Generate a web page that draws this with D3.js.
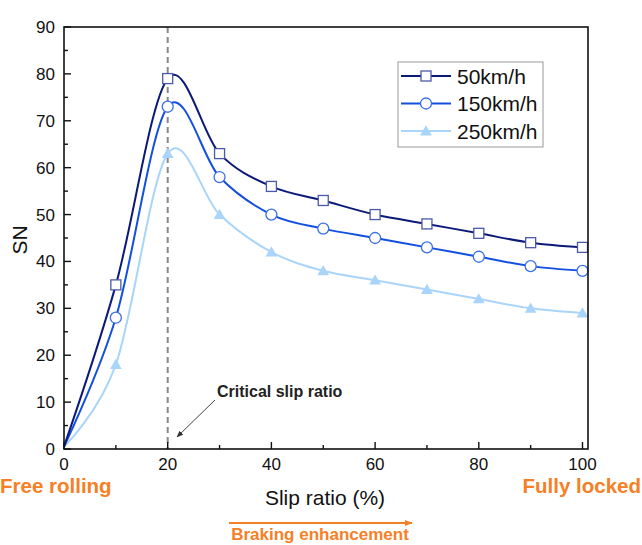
<!DOCTYPE html>
<html>
<head>
    <meta charset="UTF-8">
    <style>
        body { margin: 0; background: #fff; }
        svg { font-family: "Liberation Sans", Arial, sans-serif; }
    </style>
</head>
<body>
    <svg width="642" height="545"></svg>
    <script src="https://d3js.org/d3.v7.min.js"></script>
    <script>
        // data
        let slip = [0, 10, 20, 30, 40, 50, 60, 70, 80, 90, 100];
        let sn50 = [0.5, 35, 79, 63, 56, 53, 50, 48, 46, 44, 43];
        let sn150 = [0.5, 28, 73, 58, 50, 47, 45, 43, 41, 39, 38];
        let sn250 = [0.5, 18, 63, 50, 42, 38, 36, 34, 32, 30, 29];
        let seriesNames = ["50km/h", "150km/h", "250km/h"];
        let xTicks = [0, 20, 40, 60, 80, 100];
        let yTicks = [0, 10, 20, 30, 40, 50, 60, 70, 80, 90];
        let criticalSlip = 20;

        let svg = d3.select("svg");
        let plotLeft = 64, plotRight = 588, plotTop = 27, plotBottom = 449;

        let x = d3.scaleLinear().domain([0, 101]).range([plotLeft, 64 + 101 * 5.185]);
        let y = d3.scaleLinear().domain([0, 90]).range([plotBottom, plotTop]);

        let series = [
            { name: seriesNames[0], values: sn50, color: "#0b1a78", mark: "#4a5aa8", shape: "square" },
            { name: seriesNames[1], values: sn150, color: "#1450e0", mark: "#3a6ee8", shape: "circle" },
            { name: seriesNames[2], values: sn250, color: "#a9d5fa", mark: "#a9d5fa", shape: "triangle" }
        ];

        // dashed critical line
        svg.append("line")
            .attr("x1", x(criticalSlip)).attr("x2", x(criticalSlip))
            .attr("y1", plotTop).attr("y2", plotBottom)
            .attr("stroke", "#888").attr("stroke-width", 2)
            .attr("stroke-dasharray", "6,4");

        let line = d3.line()
            .x((d, i) => x(slip[i]))
            .y(d => y(d))
            .curve(d3.curveCatmullRom.alpha(0));

        // lines, last series first so dark ones are on top
        series.slice().reverse().forEach(s => {
            svg.append("path")
                .datum(s.values)
                .attr("fill", "none")
                .attr("stroke", s.color)
                .attr("stroke-width", 2)
                .attr("d", line);
        });

        function drawMarker(g, shape, cx, cy, color) {
            if (shape == "square") {
                g.append("rect").attr("x", cx - 5).attr("y", cy - 5).attr("width", 10).attr("height", 10)
                    .attr("fill", "#fff").attr("stroke", color).attr("stroke-width", 1.3);
            } else if (shape == "circle") {
                g.append("circle").attr("cx", cx).attr("cy", cy).attr("r", 5.5)
                    .attr("fill", "#fff").attr("stroke", color).attr("stroke-width", 1.3);
            } else {
                g.append("path").attr("d", d3.symbol(d3.symbolTriangle, 60)())
                    .attr("transform", "translate(" + cx + "," + (cy + 1) + ")")
                    .attr("fill", color);
            }
        }

        let marks = svg.append("g");
        series.slice().reverse().forEach(s => {
            s.values.forEach((v, i) => {
                if (slip[i] > 0) drawMarker(marks, s.shape, x(slip[i]), y(v), s.mark);
            });
        });

        // frame
        svg.append("rect")
            .attr("x", plotLeft).attr("y", plotTop)
            .attr("width", plotRight - plotLeft).attr("height", plotBottom - plotTop)
            .attr("fill", "none").attr("stroke", "#111").attr("stroke-width", 1.6);

        // x axis ticks (inward) with minor ticks
        let xAxis = svg.append("g");
        d3.range(0, 101, 10).forEach(v => {
            let major = v % 20 == 0;
            xAxis.append("line")
                .attr("x1", x(v)).attr("x2", x(v))
                .attr("y1", plotBottom).attr("y2", plotBottom - (major ? 7 : 4))
                .attr("stroke", "#111").attr("stroke-width", 1.4);
        });
        xAxis.selectAll("text").data(xTicks).enter().append("text")
            .attr("x", d => x(d)).attr("y", 470)
            .attr("text-anchor", "middle")
            .attr("font-size", 17).attr("fill", "#111")
            .text(d => d);

        let yAxis = svg.append("g");
        d3.range(0, 91, 5).forEach(v => {
            let major = v % 10 == 0;
            yAxis.append("line")
                .attr("x1", plotLeft).attr("x2", plotLeft + (major ? 7 : 4))
                .attr("y1", y(v)).attr("y2", y(v))
                .attr("stroke", "#111").attr("stroke-width", 1.4);
        });
        yAxis.selectAll("text").data(yTicks).enter().append("text")
            .attr("x", 55).attr("y", d => y(d))
            .attr("dy", "0.35em")
            .attr("text-anchor", "end")
            .attr("font-size", 17).attr("fill", "#111")
            .text(d => d);

        // axis titles
        svg.append("text")
            .attr("transform", "translate(27," + ((plotTop + plotBottom) / 2 + 2) + ") rotate(-90)")
            .attr("text-anchor", "middle")
            .attr("font-size", 21).attr("fill", "#111")
            .text("SN");
        svg.append("text")
            .attr("x", 325).attr("y", 505)
            .attr("text-anchor", "middle")
            .attr("font-size", 21).attr("fill", "#111")
            .text("Slip ratio (%)");

        // legend
        let legend = svg.append("g");
        legend.append("rect")
            .attr("x", 398).attr("y", 62).attr("width", 145).attr("height", 85)
            .attr("fill", "#fff").attr("stroke", "#999").attr("stroke-width", 1);
        series.forEach((s, i) => {
            let ly = 76 + i * 27.5;
            legend.append("line")
                .attr("x1", 401).attr("x2", 451).attr("y1", ly).attr("y2", ly)
                .attr("stroke", s.color).attr("stroke-width", 2);
            drawMarker(legend, s.shape, 426, ly, s.mark);
            legend.append("text")
                .attr("x", 457).attr("y", ly).attr("dy", "0.36em")
                .attr("font-size", 21).attr("fill", "#111")
                .text(s.name);
        });

        // annotations
        let defs = svg.append("defs");
        defs.append("marker")
            .attr("id", "arrowGray")
            .attr("viewBox", "0 -5 10 10")
            .attr("refX", 9).attr("refY", 0)
            .attr("markerWidth", 7).attr("markerHeight", 7)
            .attr("markerUnits", "userSpaceOnUse")
            .attr("orient", "auto")
            .append("path").attr("d", "M0,-4L10,0L0,4Z").attr("fill", "#333");
        defs.append("marker")
            .attr("id", "arrowOrange")
            .attr("viewBox", "0 -5 10 10")
            .attr("refX", 9).attr("refY", 0)
            .attr("markerWidth", 8).attr("markerHeight", 8)
            .attr("markerUnits", "userSpaceOnUse")
            .attr("orient", "auto")
            .append("path").attr("d", "M0,-4L10,0L0,4Z").attr("fill", "#f58025");

        svg.append("text")
            .attr("x", 217).attr("y", 397)
            .attr("font-size", 16).attr("font-weight", "bold").attr("fill", "#222")
            .text("Critical slip ratio");
        svg.append("line")
            .attr("x1", 215).attr("y1", 400)
            .attr("x2", 177).attr("y2", 437)
            .attr("stroke", "#444").attr("stroke-width", 1)
            .attr("marker-end", "url(#arrowGray)");

        svg.append("text")
            .attr("x", 0).attr("y", 493)
            .attr("font-size", 20.5).attr("font-weight", "bold").attr("fill", "#f58025")
            .text("Free rolling");
        svg.append("text")
            .attr("x", 641).attr("y", 493)
            .attr("text-anchor", "end")
            .attr("font-size", 20.5).attr("font-weight", "bold").attr("fill", "#f58025")
            .text("Fully locked");

        svg.append("line")
            .attr("x1", 229).attr("x2", 412).attr("y1", 523).attr("y2", 523)
            .attr("stroke", "#f58025").attr("stroke-width", 2)
            .attr("marker-end", "url(#arrowOrange)");
        svg.append("text")
            .attr("x", 320).attr("y", 540)
            .attr("text-anchor", "middle")
            .attr("font-size", 17).attr("font-weight", "bold").attr("fill", "#f58025")
            .text("Braking enhancement");
    </script>
</body>
</html>
